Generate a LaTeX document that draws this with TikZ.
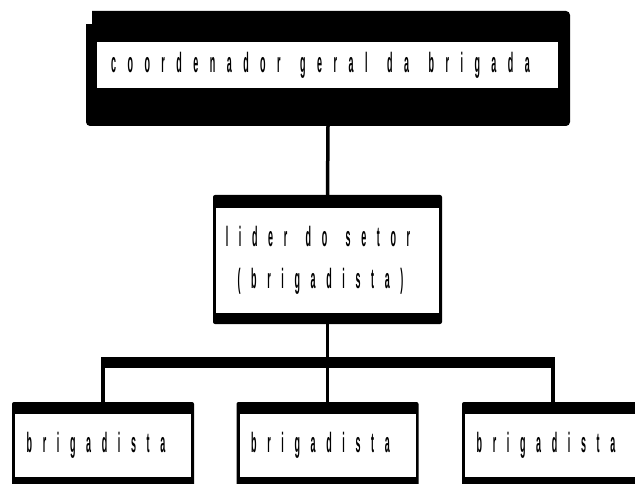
\documentclass[tikz,border=0pt]{standalone}
\usepackage{fontspec}
\newfontfamily\narrowfont[FakeStretch=0.32,LetterSpace=38,WordSpace=1.4,UprightFont=* Bold]{Liberation Sans}
\newfontfamily\widefont[FakeStretch=0.32,LetterSpace=41,WordSpace=1.4,UprightFont=* Bold]{Liberation Sans}
\usetikzlibrary{positioning}

\begin{document}
\begin{tikzpicture}[x=1pt, y=-1pt,
  frame/.style={fill=black, inner sep=0pt, rounded corners=4pt},
  label/.style={fill=white, inner sep=0pt, align=center,
    font=\narrowfont\fontsize{28}{42}\selectfont,
    execute at end node={\hspace*{14pt}}},
  wide label/.style={label, font=\widefont\fontsize{28}{42}\selectfont},
  wire/.style={line width=3.5pt},
  bus/.style={line width=11pt}]

  \useasboundingbox (0,0) rectangle (635,484);
  \clip (0,0) rectangle (635,484);

  \node[frame, minimum width=484pt, minimum height=115pt] (chefebox) at (328,68.5) {};
  \fill[white] (85,10) rectangle (92,24);
  \node[wide label, minimum width=461pt, minimum height=46pt] (chefe) at (327.5,65)
    {coordenador geral da brigada};

  \node[frame, rounded corners=2pt, minimum width=229pt, minimum height=129pt] (setorbox) at (327.5,259.5) {};
  \node[label, minimum width=223pt, minimum height=105pt] (setor) at (327.5,260.5)
    {lider do setor\hspace*{5pt}\\(brigadista)};

  \foreach \i/\x in {1/103, 2/327.5, 3/553} {
    \node[frame, rounded corners=2pt, minimum width=182pt, minimum height=88pt] (brig\i box) at (\x,446) {};
    \node[label, minimum width=176pt, minimum height=63pt] (brig\i) at (\x,445.5) {brigadista};
  }

  \coordinate (bus) at (327.5,362.5);

  \draw[wire] (chefebox.south) -- (setorbox.north);
  \draw[wire] (setorbox.south) -- (bus);
  \draw[bus, shorten <=-1.75pt, shorten >=-1.75pt] (bus -| brig1box) -- (bus -| brig3box);
  \foreach \i in {1,2,3}
    \draw[wire] (bus -| brig\i box) -- (brig\i box.north);
\end{tikzpicture}
\end{document}
